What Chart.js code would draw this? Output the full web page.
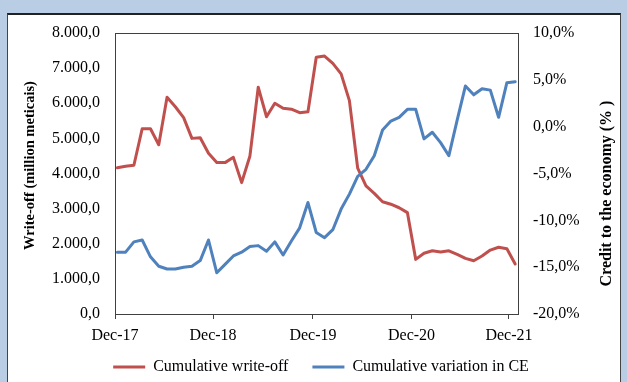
<!DOCTYPE html>
<html>
<head>
<meta charset="utf-8">
<script src="https://cdn.jsdelivr.net/npm/chart.js@4/dist/chart.umd.min.js"></script>
<style>
  html, body { margin: 0; padding: 0; width: 627px; height: 382px; overflow: hidden; background: #B9CDE5; }
  #frame { position: absolute; left: 7px; top: 13px; width: 612px; height: 400px; background: #fff;
           border-left: 1px solid #444; border-right: 1px solid #444; border-top: 2px solid #222; }
  #wrap { position: absolute; left: 0; top: 0; width: 627px; height: 382px; }
</style>
</head>
<body>
<div id="frame"></div>
<div id="wrap"><canvas id="chart" width="627" height="382"></canvas></div>
<script>
// Monthly observations, Dec-17 .. Dec-21
const months = [
  'Dec-17','Jan-18','Feb-18','Mar-18','Apr-18','May-18','Jun-18','Jul-18','Aug-18','Sep-18','Oct-18','Nov-18',
  'Dec-18','Jan-19','Feb-19','Mar-19','Apr-19','May-19','Jun-19','Jul-19','Aug-19','Sep-19','Oct-19','Nov-19',
  'Dec-19','Jan-20','Feb-20','Mar-20','Apr-20','May-20','Jun-20','Jul-20','Aug-20','Sep-20','Oct-20','Nov-20',
  'Dec-20','Jan-21','Feb-21','Mar-21','Apr-21','May-21','Jun-21','Jul-21','Aug-21','Sep-21','Oct-21','Nov-21',
  'Dec-21'
];

// Cumulative write-off, million meticais (left axis)
const writeOff = [
  4165, 4205, 4235, 5275, 5275, 4820, 6170, 5900, 5590, 5000, 5020, 4575,
  4310, 4310, 4460, 3740, 4500, 6455, 5615, 6000, 5855, 5830, 5730, 5760,
  7310, 7345, 7135, 6835, 6075, 4150, 3645, 3435, 3195, 3125, 3025, 2885,
  1555, 1730, 1800, 1765, 1800, 1700, 1585, 1515, 1650, 1820, 1900, 1860,
  1425
];

// Cumulative variation in credit to the economy, % (right axis)
const creditVariation = [
  -13.4, -13.4, -12.3, -12.1, -13.9, -14.9, -15.2, -15.2, -15.0, -14.9, -14.3, -12.1,
  -15.6, -14.7, -13.8, -13.4, -12.8, -12.7, -13.3, -12.3, -13.7, -12.2, -10.8, -8.1,
  -11.3, -11.85, -11.0, -8.8, -7.2, -5.3, -4.55, -3.1, -0.35, 0.6, 1.0, 1.85,
  1.85, -1.3, -0.6, -1.7, -3.1, 0.7, 4.35, 3.4, 4.05, 3.9, 1.0, 4.7,
  4.8
];

// Year tick labels and where they fall on the month scale
const tickLabels = ['Dec-17', 'Dec-18', 'Dec-19', 'Dec-20', 'Dec-21'];
const tickMonths = [-0.28, 11.55, 23.6, 35.5, 47.25];

const SERIF = "'Liberation Serif', 'Times New Roman', serif";

function fmtNum(v, dec) {
  const neg = v < 0;
  const parts = Math.abs(v).toFixed(dec).split('.');
  const intPart = parts[0].replace(/\B(?=(\d{3})+(?!\d))/g, '.');
  return (neg ? '-' : '') + intPart + (dec > 0 ? ',' + parts[1] : '');
}

const toPoints = arr => arr.map((v, i) => ({ x: i, y: v }));

// Plot frame, rotated axis titles, and room for the date labels below the axis
const frameAndTitles = {
  id: 'frameAndTitles',
  afterLayout(chart) {
    // let the date labels extend below the thin x-axis box without being clipped
    chart.scales.x.bottom = chart.height;
    // nudge the legend row slightly lower
    chart.legend.top += 3;
    chart.legend.bottom += 3;
  },
  afterDatasetsDraw(chart) {
    const { ctx, chartArea: a } = chart;
    ctx.save();
    ctx.strokeStyle = '#404040';
    ctx.lineWidth = 1;
    ctx.beginPath();
    ctx.moveTo(a.left, a.top + 0.5);
    ctx.lineTo(a.right, a.top + 0.5);
    ctx.stroke();
    ctx.restore();
  },
  afterDraw(chart) {
    const { ctx, chartArea: a } = chart;
    const midY = (a.top + a.bottom) / 2;
    ctx.save();
    ctx.fillStyle = '#000';
    ctx.textAlign = 'center';
    ctx.textBaseline = 'middle';

    ctx.save();
    ctx.translate(a.left - 85, midY - 8);
    ctx.rotate(-Math.PI / 2);
    ctx.font = 'bold 14.5px ' + SERIF;
    ctx.fillText('Write-off (million meticais)', 0, 0);
    ctx.restore();

    ctx.save();
    ctx.translate(a.right + 89, midY + 20);
    ctx.rotate(-Math.PI / 2);
    ctx.font = 'bold 16px ' + SERIF;
    ctx.fillText('Credit to the economy (% )', 0, 0);
    ctx.restore();

    ctx.restore();
  }
};

new Chart(document.getElementById('chart'), {
  type: 'line',
  data: {
    datasets: [
      {
        label: 'Cumulative write-off',
        data: toPoints(writeOff),
        yAxisID: 'y',
        borderColor: '#C0504D',
        backgroundColor: '#C0504D',
        borderWidth: 3,
        borderCapStyle: 'round',
        borderJoinStyle: 'round',
        pointRadius: 0,
        tension: 0,
        order: 1
      },
      {
        label: 'Cumulative variation in CE',
        data: toPoints(creditVariation),
        yAxisID: 'y1',
        borderColor: '#4F81BD',
        backgroundColor: '#4F81BD',
        borderWidth: 3,
        borderCapStyle: 'round',
        borderJoinStyle: 'round',
        pointRadius: 0,
        tension: 0,
        order: 0
      }
    ]
  },
  options: {
    responsive: false,
    animation: false,
    devicePixelRatio: 1,
    layout: { padding: { top: 33, left: 15, right: 0, bottom: 0 } },
    plugins: {
      tooltip: { enabled: false },
      legend: {
        position: 'bottom',
        labels: {
          usePointStyle: true,
          pointStyle: 'line',
          pointStyleWidth: 32,
          padding: 24,
          color: '#000',
          font: { family: SERIF, size: 16 },
          sort: (a, b) => a.datasetIndex - b.datasetIndex
        }
      }
    },
    scales: {
      x: {
        type: 'linear',
        min: -0.28,
        max: 48.34,
        afterBuildTicks: scale => { scale.ticks = tickMonths.map(v => ({ value: v })); },
        afterFit: scale => { scale.height = 18; },
        ticks: {
          autoSkip: false,
          maxRotation: 0,
          padding: 7,
          color: '#000',
          font: { family: SERIF, size: 16 },
          callback: (value, index) => tickLabels[index]
        },
        grid: { drawOnChartArea: false, drawTicks: true, tickLength: 5, color: '#404040' },
        border: { display: true, color: '#404040', width: 1 }
      },
      y: {
        position: 'left',
        min: 0,
        max: 8000,
        afterFit: scale => { scale.width = 100; },
        ticks: {
          stepSize: 1000,
          padding: 15,
          color: '#000',
          font: { family: SERIF, size: 16 },
          callback: v => fmtNum(v, 1)
        },
        grid: { display: false, drawTicks: false },
        border: { display: true, color: '#404040', width: 1 }
      },
      y1: {
        position: 'right',
        min: -20,
        max: 10,
        afterFit: scale => { scale.width = 109; },
        ticks: {
          stepSize: 5,
          padding: 15,
          color: '#000',
          font: { family: SERIF, size: 16 },
          callback: v => fmtNum(v, 1) + '%'
        },
        grid: { display: false, drawTicks: false },
        border: { display: true, color: '#404040', width: 1 }
      }
    }
  },
  plugins: [frameAndTitles]
});
</script>
</body>
</html>
